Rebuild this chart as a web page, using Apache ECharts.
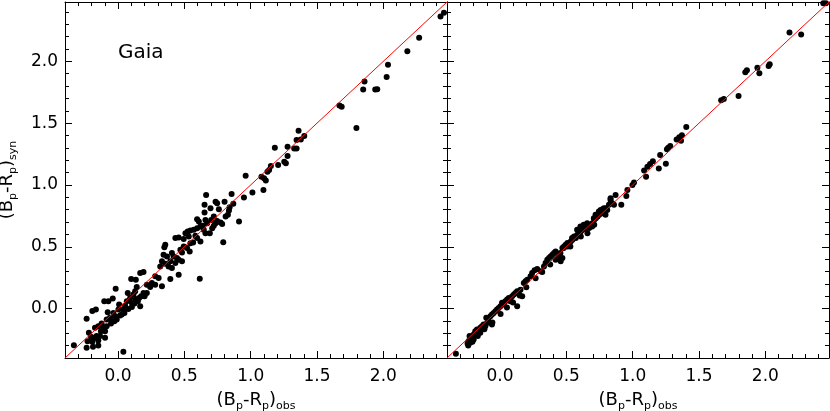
<!DOCTYPE html>
<html>
<head>
<meta charset="utf-8">
<script src="https://cdn.jsdelivr.net/npm/echarts@6/dist/echarts.min.js"></script>
<style>
html,body{margin:0;padding:0;background:#fff;}
#chart{width:830px;height:411px;}
</style>
</head>
<body>
<div id="chart"></div>
<script>
// ---- axis ranges and ticks ----
const axisMin = -0.4;
const axisMax = 2.48;
const majorTicks = [0, 0.5, 1.0, 1.5, 2.0];
const minorTicks = [-0.3,-0.2,-0.1,0.1,0.2,0.3,0.4,0.6,0.7,0.8,0.9,1.1,1.2,1.3,1.4,1.6,1.7,1.8,1.9,2.1,2.2,2.3,2.4];
const oneToOne = [-0.4, 2.48];
const panelLabel = 'Gaia';

// ---- left panel (Gaia): observed vs synthetic ----
const leftObs = [
-0.333,-0.237,-0.237,-0.220,-0.230,-0.194,-0.149,-0.189,-0.162,-0.149,-0.174,-0.149,-0.124,-0.111,-0.129,-0.098,
-0.194,-0.167,-0.104,-0.073,-0.040,-0.018,-0.078,-0.086,-0.061,-0.048,-0.023,-0.010,-0.035,0.003,0.008,0.028,
0.040,0.053,0.066,0.073,0.091,0.104,0.116,0.129,0.141,0.134,0.167,0.099,0.134,0.167,0.192,0.040,0.192,0.174,
0.217,0.242,
-0.136,-0.086,-0.053,-0.028,0.015,0.048,0.078,0.104,0.124,0.149,0.159,0.200,0.217,-0.098,-0.174,-0.204,
1.361,1.346,1.328,1.346,1.278,1.182,1.278,1.253,1.265,1.207,1.152,1.126,1.139,1.081,1.101,1.114,0.962,1.096,
1.013,0.949,0.856,0.664,0.869,0.841,0.803,0.735,0.747,0.652,0.697,0.760,0.652,0.836,0.811,0.828,0.722,0.912,
0.596,0.609,0.659,0.672,0.702,0.735,0.747,0.773,0.785,0.621,0.639,0.710,0.722,0.571,0.596,0.646,0.659,0.692,
0.508,0.525,0.545,0.533,0.583,0.596,0.621,0.793,0.432,0.457,0.495,0.545,0.566,0.356,0.349,0.495,0.520,0.470,
0.482,0.540,0.343,0.369,0.406,0.419,0.444,0.331,0.356,0.394,0.432,0.457,0.482,0.381,0.406,0.318,0.457,0.394,
0.616,0.280,0.306,0.255,0.280,0.331,
2.457,2.431,2.270,2.181,2.035,2.025,1.858,1.848,1.939,1.954,1.669,1.686,1.797,1.378,1.404
];
const leftSyn = [
-0.296,-0.317,-0.083,-0.196,-0.264,-0.269,-0.298,-0.309,-0.223,-0.258,-0.156,-0.143,-0.121,-0.156,-0.183,-0.183,
-0.019,-0.008,0.059,0.059,0.081,0.161,-0.030,-0.089,-0.075,-0.102,-0.062,-0.089,-0.035,-0.008,0.032,-0.048,
-0.008,0.024,0.059,0.126,0.086,0.046,0.113,0.140,0.175,0.078,0.019,0.239,0.234,0.288,0.296,-0.349,0.126,0.099,
0.193,0.175,
-0.223,-0.143,-0.121,-0.102,-0.057,-0.035,-0.003,0.013,0.040,0.059,0.086,0.099,0.126,-0.237,-0.237,-0.229,
1.438,1.363,1.295,1.295,1.309,1.301,1.234,1.188,1.175,1.161,1.153,1.107,1.121,1.067,1.054,1.035,1.075,0.960,
0.938,0.898,0.927,0.919,0.847,0.820,0.865,0.865,0.852,0.839,0.812,0.804,0.777,0.793,0.744,0.758,0.744,0.704,
0.723,0.704,0.717,0.691,0.717,0.691,0.709,0.696,0.685,0.664,0.669,0.650,0.669,0.637,0.650,0.637,0.610,0.610,
0.610,0.623,0.632,0.583,0.589,0.570,0.543,0.537,0.570,0.575,0.562,0.529,0.535,0.516,0.495,0.503,0.489,0.476,
0.454,0.462,0.435,0.422,0.449,0.422,0.408,0.382,0.363,0.382,0.368,0.395,0.382,0.341,0.328,0.341,0.274,0.239,
0.242,0.261,0.247,0.207,0.193,0.180,
2.393,2.363,2.191,2.081,1.973,1.874,1.836,1.772,1.772,1.774,1.643,1.632,1.460,1.368,1.395
];

// ---- right panel: observed vs synthetic (corrected) ----
const rightObs = [
-0.333,-0.245,-0.237,-0.225,-0.230,-0.212,-0.199,-0.187,-0.174,-0.162,-0.149,-0.136,-0.124,-0.111,-0.098,-0.086,
-0.104,-0.073,-0.061,-0.048,-0.035,-0.023,-0.010,0.003,0.015,0.028,0.040,0.053,0.066,0.078,0.091,0.104,0.116,
0.129,0.141,0.154,0.167,0.179,0.192,0.205,0.242,0.260,0.280,0.306,0.331,0.343,0.356,0.369,0.381,0.394,0.407,
0.419,0.457,0.470,0.482,0.495,0.508,0.533,0.546,0.558,0.571,0.583,0.596,0.609,0.621,0.634,0.646,0.659,0.672,
0.684,0.697,0.710,0.722,0.735,0.748,0.760,0.773,0.785,0.798,-0.061,-0.149,-0.199,-0.225,0.129,0.078,0.230,
0.419,0.470,0.508,0.609,0.710,0.659,
0.455,0.480,0.505,0.530,0.543,0.568,0.581,0.593,0.606,0.619,0.631,0.644,0.657,0.669,0.694,0.707,0.720,0.732,
0.745,0.758,0.770,0.783,0.795,
-0.240,-0.208,-0.168,-0.118,-0.058,0.004,0.052,0.098,0.148,0.198,0.268,0.318,0.378,0.438,
0.808,0.821,0.833,0.846,0.859,0.871,0.833,0.914,0.952,0.960,
2.437,2.457,2.182,2.270,2.033,2.025,1.940,1.955,1.861,1.849,1.798,1.687,1.667,1.404,1.371,1.351,1.364,1.331,
1.283,1.268,1.258,1.207,1.250,1.197,1.152,1.131,1.111,1.086,1.101,1.010,0.998
];
const rightSyn = [
-0.366,-0.282,-0.263,-0.250,-0.223,-0.237,-0.210,-0.183,-0.169,-0.196,-0.156,-0.143,-0.129,-0.143,-0.116,-0.102,
-0.075,-0.062,-0.048,-0.035,-0.022,-0.008,0.005,0.019,0.046,0.032,0.059,0.073,0.086,0.073,0.099,0.113,0.126,
0.140,0.126,0.153,0.099,0.207,0.220,0.234,0.288,0.309,0.320,0.301,0.341,0.368,0.395,0.409,0.422,0.435,0.449,
0.462,0.382,0.489,0.503,0.516,0.530,0.543,0.556,0.583,0.570,0.597,0.610,0.624,0.637,0.664,0.677,0.664,0.651,
0.677,0.691,0.718,0.731,0.745,0.758,0.785,0.804,0.798,0.812,-0.129,-0.196,-0.250,-0.277,0.019,0.059,0.261,
0.395,0.409,0.503,0.583,0.677,0.610,
0.449,0.489,0.516,0.503,0.570,0.583,0.637,0.610,0.664,0.637,0.677,0.650,0.691,0.664,0.664,0.731,0.758,0.745,
0.785,0.798,0.771,0.812,0.758,
-0.298,-0.268,-0.222,-0.168,-0.112,-0.045,0.008,0.048,0.106,0.172,0.246,0.296,0.356,0.418,
0.798,0.839,0.879,0.852,0.839,0.919,0.892,0.839,0.911,0.960,
2.470,2.470,2.234,2.218,1.976,1.962,1.949,1.903,1.927,1.911,1.720,1.696,1.686,1.468,1.403,1.385,1.358,1.368,
1.315,1.301,1.288,1.242,1.172,1.134,1.191,1.169,1.148,1.116,1.067,1.019,1.000
];

const FONT = 'DejaVu Sans, Verdana, sans-serif';

function pairs(xs, ys) { return xs.map((x, i) => [x, ys[i]]); }

const nameRich = {
  n: { fontSize: 18, fontFamily: FONT, color: '#000', lineHeight: 24 },
  s: { fontSize: 11, fontFamily: FONT, color: '#000', lineHeight: 11, verticalAlign: 'bottom' }
};
const obsName = '{n|(B}{s|p}{n|-R}{s|p}{n|)}{s|obs}';
const synName = '{n|(B}{s|p}{n|-R}{s|p}{n|)}{s|syn}';

function mkAxis(grid, pos, major, extra) {
  return Object.assign({
    type: 'value', gridIndex: grid, position: pos, min: axisMin, max: axisMax,
    axisLine: { show: major, onZero: false, lineStyle: { color: '#000', width: 1 } },
    axisTick: { show: true, inside: true, length: major ? 7 : 4, customValues: major ? majorTicks : minorTicks,
                lineStyle: { color: '#000', width: 1 } },
    axisLabel: { show: false },
    splitLine: { show: false }
  }, extra || {});
}
const tickLabel = { show: true, customValues: majorTicks, formatter: v => v.toFixed(1),
                    fontSize: 17, fontFamily: FONT, color: '#000' };

const xAxes = [], yAxes = [];
[0, 1].forEach(g => {
  xAxes.push(mkAxis(g, 'bottom', true, {
    axisLabel: Object.assign({}, tickLabel, { margin: 10 }),
    name: obsName, nameLocation: 'middle', nameGap: 30,
    nameTextStyle: { rich: nameRich }
  }));
  xAxes.push(mkAxis(g, 'bottom', false));
  xAxes.push(mkAxis(g, 'top', true));
  xAxes.push(mkAxis(g, 'top', false));
  const leftExtra = g === 0 ? {
    axisLabel: Object.assign({}, tickLabel, { margin: 7 }),
    name: synName, nameLocation: 'middle', nameGap: 46,
    nameTextStyle: { rich: nameRich }
  } : {};
  yAxes.push(mkAxis(g, 'left', true, leftExtra));
  yAxes.push(mkAxis(g, 'left', false));
  yAxes.push(mkAxis(g, 'right', true));
  yAxes.push(mkAxis(g, 'right', false));
});

const chart = echarts.init(document.getElementById('chart'), null, { renderer: 'canvas' });
chart.setOption({
  animation: false,
  backgroundColor: '#fff',
  grid: [
    { left: 65, top: 2, width: 382, height: 356, containLabel: false, outerBoundsMode: 'none' },
    { left: 447, top: 2, width: 382, height: 356, containLabel: false, outerBoundsMode: 'none' }
  ],
  xAxis: xAxes,
  yAxis: yAxes,
  graphic: [{
    type: 'text', left: 118, top: 43,
    style: { text: panelLabel, fontSize: 20, fontFamily: FONT, fill: '#000' }
  }],
  series: [
    { type: 'line', xAxisIndex: 0, yAxisIndex: 0, data: [[oneToOne[0], oneToOne[0]], [oneToOne[1], oneToOne[1]]],
      showSymbol: false, symbol: 'none', lineStyle: { color: '#ff0000', width: 1 }, z: 3 },
    { type: 'scatter', xAxisIndex: 0, yAxisIndex: 0, data: pairs(leftObs, leftSyn),
      symbol: 'circle', symbolSize: 6, itemStyle: { color: '#000', opacity: 1 }, z: 2 },
    { type: 'line', xAxisIndex: 4, yAxisIndex: 4, data: [[oneToOne[0], oneToOne[0]], [oneToOne[1], oneToOne[1]]],
      showSymbol: false, symbol: 'none', lineStyle: { color: '#ff0000', width: 1 }, z: 3 },
    { type: 'scatter', xAxisIndex: 4, yAxisIndex: 4, data: pairs(rightObs, rightSyn),
      symbol: 'circle', symbolSize: 6, itemStyle: { color: '#000', opacity: 1 }, z: 2 }
  ]
});
</script>
</body>
</html>
